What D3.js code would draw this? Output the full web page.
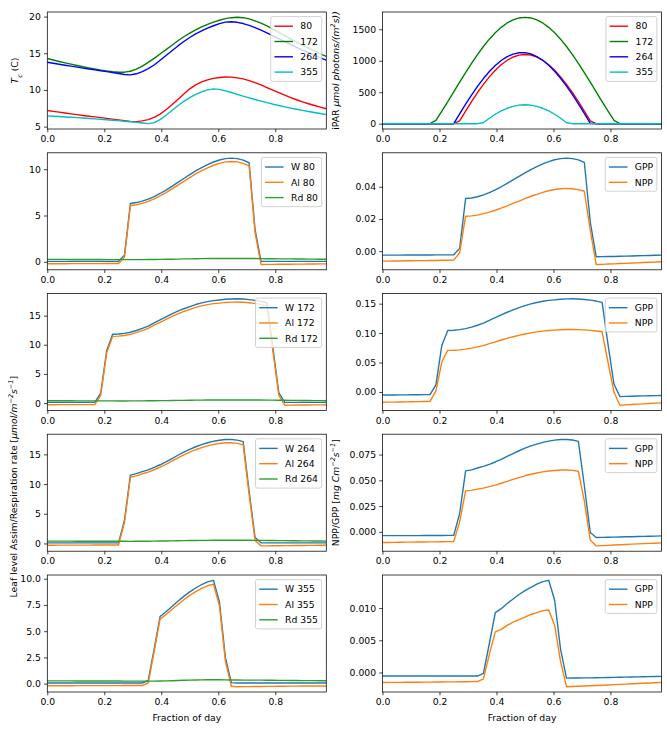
<!DOCTYPE html>
<html><head><meta charset="utf-8">
<script src="https://cdn.jsdelivr.net/npm/d3@7"></script>
<style>
body{margin:0;background:#fff;}
text{font-family:"DejaVu Sans",sans-serif;}
</style></head>
<body>
<script>
// ---------- DATA ----------
const frac = [0,.0208,.0417,.0625,.0833,.1042,.125,.1458,.1667,.1875,.2083,.2292,.25,.2708,.2917,.3125,.3333,.3542,.375,.3958,.4167,.4375,.4583,.4792,.5,.5208,.5417,.5625,.5833,.6042,.625,.6458,.6667,.6875,.7083,.7292,.75,.7708,.7917,.8125,.8333,.8542,.875,.8958,.9167,.9375,.9583,.9792];
const days = ["80","172","264","355"];

// canopy temperature (C)
const tc80  = [7.20,7.08,6.97,6.85,6.74,6.63,6.52,6.42,6.32,6.22,6.12,6.02,5.92,5.82,5.72,5.68,5.78,5.95,6.25,6.70,7.30,7.98,8.70,9.45,10.15,10.70,11.10,11.38,11.57,11.70,11.76,11.74,11.65,11.50,11.28,11.00,10.68,10.33,9.97,9.62,9.28,8.96,8.66,8.38,8.12,7.88,7.65,7.43];
const tc172 = [14.28,14.08,13.88,13.69,13.51,13.33,13.16,13.00,12.85,12.71,12.58,12.48,12.42,12.42,12.55,12.85,13.25,13.75,14.30,14.90,15.50,16.10,16.70,17.25,17.75,18.20,18.60,18.95,19.25,19.50,19.72,19.85,19.90,19.85,19.68,19.42,19.10,18.72,18.30,17.85,17.40,16.95,16.52,16.10,15.70,15.31,14.93,14.56];
const tc264 = [13.78,13.64,13.50,13.37,13.24,13.11,12.98,12.86,12.74,12.62,12.50,12.38,12.24,12.10,12.05,12.20,12.50,12.90,13.40,14.05,14.70,15.35,16.00,16.60,17.15,17.65,18.05,18.42,18.75,19.05,19.25,19.30,19.22,19.05,18.80,18.50,18.15,17.78,17.38,16.98,16.58,16.18,15.80,15.43,15.07,14.72,14.38,14.05];
const tc355 = [6.47,6.42,6.37,6.32,6.27,6.22,6.17,6.11,6.05,5.99,5.93,5.87,5.81,5.74,5.67,5.60,5.50,5.40,5.55,5.95,6.55,7.20,7.85,8.45,8.95,9.40,9.75,10.00,10.15,10.08,9.88,9.65,9.40,9.15,8.92,8.70,8.48,8.27,8.07,7.88,7.70,7.53,7.37,7.21,7.06,6.92,6.78,6.64];

// iPAR
const par80  = [0,0,0,0,0,0,0,0,0,0,0,0,0,44,200,350,493,625,744,849,937,1008,1059,1090,1100,1090,1059,1008,937,849,744,625,493,350,200,44,0,0,0,0,0,0,0,0,0,0,0,0];
const par172 = [0,0,0,0,0,0,0,0,0,51,198,350,505,660,812,958,1097,1226,1343,1445,1531,1600,1650,1680,1690,1680,1650,1600,1531,1445,1343,1226,1097,958,812,660,505,350,198,51,0,0,0,0,0,0,0,0];
const par264 = [0,0,0,0,0,0,0,0,0,0,0,0,0,156,309,455,593,717,829,925,1004,1065,1106,1127,1128,1107,1067,1007,929,833,722,597,461,315,163,6,0,0,0,0,0,0,0,0,0,0,0,0];
const par355 = [0,0,0,0,0,0,0,0,0,0,0,0,0,0,0,0,0,15,87,150,202,245,275,294,300,294,275,245,202,150,87,15,0,0,0,0,0,0,0,0,0,0,0,0,0,0,0,0];

// leaf level rates, day 80
const w80  = [0.05,0.05,0.05,0.05,0.05,0.05,0.05,0.05,0.05,0.05,0.05,0.05,0.05,0.72,6.30,6.40,6.55,6.78,7.05,7.38,7.75,8.15,8.58,9.00,9.42,9.82,10.18,10.50,10.78,11.00,11.15,11.20,11.15,10.98,10.70,3.50,0.05,0.05,0.05,0.05,0.05,0.05,0.05,0.05,0.05,0.05,0.05,0.05];
const al80 = [-0.21,-0.21,-0.21,-0.21,-0.20,-0.20,-0.20,-0.20,-0.20,-0.20,-0.19,-0.19,-0.19,0.50,6.08,6.16,6.31,6.53,6.80,7.12,7.48,7.87,8.29,8.69,9.10,9.49,9.84,10.15,10.43,10.64,10.79,10.84,10.79,10.63,10.35,3.15,-0.29,-0.28,-0.28,-0.27,-0.26,-0.26,-0.25,-0.25,-0.24,-0.24,-0.23,-0.23];
const rd80 = [0.26,0.26,0.26,0.26,0.25,0.25,0.25,0.25,0.25,0.25,0.24,0.24,0.24,0.24,0.24,0.24,0.24,0.25,0.25,0.26,0.27,0.28,0.29,0.31,0.32,0.33,0.34,0.35,0.35,0.36,0.36,0.36,0.36,0.35,0.35,0.35,0.34,0.33,0.33,0.32,0.31,0.31,0.30,0.30,0.29,0.29,0.28,0.28];
const gpp80 = [-0.0025,-0.0025,-0.0025,-0.0025,-0.0024,-0.0024,-0.0024,-0.0024,-0.0024,-0.0023,-0.0023,-0.0023,-0.0023,0.0017,0.0327,0.0330,0.0338,0.0350,0.0364,0.0381,0.0400,0.0421,0.0443,0.0464,0.0486,0.0507,0.0525,0.0542,0.0556,0.0568,0.0575,0.0578,0.0575,0.0567,0.0552,0.0180,-0.0035,-0.0034,-0.0033,-0.0033,-0.0032,-0.0031,-0.0030,-0.0029,-0.0028,-0.0027,-0.0026,-0.0025];
const npp80 = [-0.0062,-0.0062,-0.0061,-0.0061,-0.0060,-0.0060,-0.0059,-0.0059,-0.0058,-0.0058,-0.0057,-0.0057,-0.0056,-0.0010,0.0217,0.0219,0.0224,0.0233,0.0242,0.0254,0.0267,0.0281,0.0297,0.0311,0.0326,0.0341,0.0353,0.0365,0.0375,0.0383,0.0388,0.0390,0.0388,0.0382,0.0372,0.0130,-0.0083,-0.0082,-0.0080,-0.0079,-0.0077,-0.0076,-0.0074,-0.0073,-0.0071,-0.0069,-0.0068,-0.0066];

// day 172
const w172  = [0.12,0.12,0.12,0.12,0.12,0.12,0.12,0.12,0.12,1.70,8.96,11.80,11.85,11.95,12.15,12.45,12.80,13.20,13.75,14.28,14.80,15.30,15.75,16.18,16.55,16.90,17.18,17.40,17.58,17.68,17.80,17.86,17.88,17.84,17.75,17.62,17.45,17.20,9.50,1.80,0.12,0.12,0.12,0.12,0.12,0.12,0.12,0.12];
const al172 = [-0.28,-0.28,-0.27,-0.27,-0.27,-0.26,-0.26,-0.26,-0.25,1.33,8.59,11.43,11.49,11.59,11.78,12.08,12.42,12.81,13.35,13.86,14.37,14.85,15.29,15.71,16.06,16.40,16.67,16.88,17.06,17.15,17.26,17.32,17.34,17.30,17.21,17.09,16.93,16.69,9.00,1.31,-0.36,-0.35,-0.34,-0.33,-0.32,-0.31,-0.30,-0.29];
const rd172 = [0.40,0.40,0.39,0.39,0.39,0.38,0.38,0.38,0.37,0.37,0.37,0.37,0.36,0.36,0.37,0.37,0.38,0.39,0.40,0.42,0.43,0.45,0.46,0.47,0.49,0.50,0.51,0.52,0.52,0.53,0.54,0.54,0.54,0.54,0.54,0.53,0.52,0.51,0.50,0.49,0.48,0.47,0.46,0.45,0.44,0.43,0.42,0.41];
const gpp172 = [-0.0052,-0.0052,-0.0051,-0.0050,-0.0049,-0.0048,-0.0047,-0.0046,-0.0045,0.0120,0.0795,0.1044,0.1049,0.1058,0.1075,0.1102,0.1133,0.1168,0.1217,0.1264,0.1310,0.1354,0.1394,0.1432,0.1465,0.1496,0.1520,0.1540,0.1556,0.1565,0.1575,0.1581,0.1582,0.1579,0.1571,0.1559,0.1544,0.1522,0.0800,0.0130,-0.0080,-0.0076,-0.0073,-0.0070,-0.0067,-0.0064,-0.0062,-0.0060];
const npp172 = [-0.0175,-0.0174,-0.0173,-0.0171,-0.0169,-0.0167,-0.0165,-0.0163,-0.0160,0.0017,0.0512,0.0706,0.0709,0.0715,0.0727,0.0744,0.0765,0.0788,0.0820,0.0851,0.0882,0.0911,0.0937,0.0962,0.0984,0.1004,0.1020,0.1033,0.1044,0.1050,0.1057,0.1060,0.1061,0.1059,0.1054,0.1046,0.1036,0.1022,0.0500,-0.0006,-0.0225,-0.0220,-0.0214,-0.0208,-0.0202,-0.0196,-0.0190,-0.0185];

// day 264
const w264  = [0.10,0.10,0.10,0.10,0.10,0.10,0.10,0.10,0.10,0.10,0.10,0.10,0.10,3.90,11.50,11.75,12.10,12.40,12.80,13.25,13.75,14.30,14.85,15.38,15.85,16.28,16.65,16.95,17.20,17.38,17.50,17.50,17.40,17.15,8.80,1.00,0.10,0.10,0.10,0.10,0.10,0.10,0.10,0.10,0.10,0.10,0.10,0.10];
const al264 = [-0.30,-0.30,-0.29,-0.29,-0.29,-0.28,-0.28,-0.28,-0.27,-0.27,-0.27,-0.26,-0.26,3.54,11.15,11.39,11.73,12.02,12.41,12.84,13.33,13.86,14.39,14.91,15.36,15.78,16.14,16.43,16.67,16.84,16.95,16.95,16.85,16.61,8.27,0.48,-0.41,-0.40,-0.39,-0.38,-0.37,-0.36,-0.35,-0.34,-0.33,-0.32,-0.31,-0.30];
const rd264 = [0.40,0.40,0.39,0.39,0.39,0.38,0.38,0.38,0.37,0.37,0.37,0.36,0.36,0.36,0.35,0.36,0.37,0.38,0.39,0.41,0.42,0.44,0.46,0.47,0.49,0.50,0.51,0.52,0.53,0.54,0.55,0.55,0.55,0.54,0.53,0.52,0.51,0.50,0.49,0.48,0.47,0.46,0.45,0.44,0.43,0.42,0.41,0.40];
const gpp264 = [-0.0037,-0.0037,-0.0037,-0.0036,-0.0036,-0.0036,-0.0036,-0.0035,-0.0035,-0.0035,-0.0035,-0.0034,-0.0034,0.0178,0.0592,0.0602,0.0620,0.0635,0.0655,0.0678,0.0704,0.0732,0.0760,0.0787,0.0812,0.0834,0.0852,0.0868,0.0881,0.0890,0.0896,0.0896,0.0891,0.0878,0.0450,-0.0006,-0.0055,-0.0054,-0.0052,-0.0051,-0.0050,-0.0048,-0.0047,-0.0045,-0.0044,-0.0042,-0.0041,-0.0039];
const npp264 = [-0.0103,-0.0103,-0.0102,-0.0101,-0.0100,-0.0100,-0.0099,-0.0098,-0.0097,-0.0097,-0.0096,-0.0095,-0.0094,0.0097,0.0398,0.0403,0.0415,0.0425,0.0439,0.0454,0.0472,0.0490,0.0509,0.0527,0.0544,0.0559,0.0571,0.0582,0.0590,0.0596,0.0600,0.0600,0.0597,0.0588,0.0300,-0.0080,-0.0136,-0.0134,-0.0131,-0.0128,-0.0125,-0.0122,-0.0119,-0.0117,-0.0114,-0.0112,-0.0110,-0.0107];

// day 355
const w355  = [0.06,0.06,0.06,0.06,0.06,0.06,0.06,0.06,0.06,0.06,0.06,0.06,0.06,0.06,0.06,0.06,0.06,0.30,3.30,6.40,6.85,7.35,7.85,8.32,8.75,9.12,9.45,9.70,9.85,7.80,2.50,0.10,0.06,0.06,0.06,0.06,0.06,0.06,0.06,0.06,0.06,0.06,0.06,0.06,0.06,0.06,0.06,0.06];
const al355 = [-0.20,-0.20,-0.20,-0.20,-0.20,-0.19,-0.19,-0.19,-0.19,-0.19,-0.19,-0.19,-0.19,-0.18,-0.18,-0.18,-0.18,0.06,3.06,6.15,6.59,7.07,7.55,8.00,8.42,8.77,9.09,9.33,9.48,7.43,2.14,-0.25,-0.29,-0.28,-0.28,-0.27,-0.27,-0.26,-0.26,-0.25,-0.25,-0.24,-0.24,-0.23,-0.23,-0.23,-0.22,-0.22];
const rd355 = [0.26,0.26,0.26,0.26,0.26,0.25,0.25,0.25,0.25,0.25,0.25,0.25,0.25,0.24,0.24,0.24,0.24,0.24,0.24,0.25,0.26,0.28,0.30,0.32,0.33,0.35,0.36,0.37,0.37,0.37,0.36,0.35,0.35,0.34,0.34,0.33,0.33,0.32,0.32,0.31,0.31,0.30,0.30,0.29,0.29,0.29,0.28,0.28];
const gpp355 = [-0.00055,-0.00055,-0.00055,-0.00055,-0.00055,-0.00055,-0.00055,-0.00055,-0.00055,-0.00055,-0.00055,-0.00055,-0.00055,-0.00055,-0.00055,-0.00055,-0.00055,-0.00015,0.0045,0.0093,0.0099,0.0107,0.0114,0.0121,0.0127,0.0132,0.0137,0.0141,0.0143,0.0112,0.0036,-0.00087,-0.00086,-0.00085,-0.00084,-0.00083,-0.00082,-0.00080,-0.00078,-0.00076,-0.00074,-0.00072,-0.00070,-0.00068,-0.00066,-0.00064,-0.00062,-0.00060];
const npp355 = [-0.00155,-0.00154,-0.00154,-0.00153,-0.00152,-0.00152,-0.00151,-0.00150,-0.00149,-0.00148,-0.00147,-0.00146,-0.00145,-0.00144,-0.00143,-0.00142,-0.00140,-0.00100,0.0028,0.0063,0.0067,0.0073,0.0078,0.0082,0.0086,0.0090,0.0093,0.0096,0.0097,0.0073,0.0017,-0.0022,-0.00218,-0.00214,-0.00210,-0.00205,-0.00201,-0.00197,-0.00193,-0.00188,-0.00184,-0.00180,-0.00175,-0.00171,-0.00167,-0.00163,-0.00158,-0.00154];

// tick labels
const xTicks = [0, 0.2, 0.4, 0.6, 0.8];
const tcTicks = [5, 10, 15, 20];
const parTicks = [0, 500, 1000, 1500];
const leaf80Ticks = [0, 5, 10];
const leaf172Ticks = [0, 5, 10, 15];
const leaf264Ticks = [0, 5, 10, 15];
const leaf355Ticks = [0, 2.5, 5, 7.5, 10];
const gpp80Ticks = [0, 0.02, 0.04];
const gpp172Ticks = [0, 0.05, 0.10, 0.15];
const gpp264Ticks = [0, 0.025, 0.05, 0.075];
const gpp355Ticks = [0, 0.005, 0.010];

// ---------- STYLE / LAYOUT ----------
const FS = 9.26;
const LW = 1.39;
const C = {r:"#ff0000", g:"#008000", b:"#0000ff", c:"#00bfbf", t1:"#1f77b4", t2:"#ff7f0e", t3:"#2ca02c"};
const colX = [47.3, 382.5];
const W = 279;
const rowY = [12, 152.8, 293.5, 434.2, 575];
const H = 117;

const svg = d3.select("body").append("svg").attr("width", 667).attr("height", 730)
  .style("font-family", "'DejaVu Sans', sans-serif");

let clipId = 0;
function panel(col, row, series, yTicks, yFmt) {
  const x0 = colX[col], y0 = rowY[row];
  const g = svg.append("g").attr("transform", `translate(${x0},${y0})`);
  const x = d3.scaleLinear().domain(d3.extent(frac)).range([0, W]);
  const all = series.flatMap(s => s.values);
  const [lo, hi] = d3.extent(all);
  const pad = (hi - lo) * 0.05;
  const y = d3.scaleLinear().domain([lo - pad, hi + pad]).range([H, 0]);

  const id = "clip" + (clipId++);
  g.append("clipPath").attr("id", id).append("rect").attr("width", W).attr("height", H);
  const line = d3.line().x((d, i) => x(frac[i])).y(d => y(d));
  const lg = g.append("g").attr("clip-path", `url(#${id})`);
  series.forEach(s => {
    lg.append("path").attr("d", line(s.values)).attr("fill", "none")
      .attr("stroke", s.color).attr("stroke-width", LW).attr("stroke-linejoin", "round");
  });

  const xa = g.append("g").attr("transform", `translate(0,${H})`)
    .call(d3.axisBottom(x).tickValues(xTicks).tickFormat(d3.format(".1f")).tickSize(3.24).tickPadding(3.2));
  const ya = g.append("g")
    .call(d3.axisLeft(y).tickValues(yTicks).tickFormat(yFmt).tickSize(3.24).tickPadding(3.2));
  [xa, ya].forEach(a => {
    a.select(".domain").remove();
    a.selectAll("line").attr("stroke", "#000").attr("stroke-width", 0.75);
    a.selectAll("text").attr("fill", "#000").style("font-size", FS + "px").style("font-family", "'DejaVu Sans', sans-serif");
  });
  g.append("rect").attr("width", W).attr("height", H).attr("fill", "none")
    .attr("stroke", "#000").attr("stroke-width", 0.75);

  // legend
  const pitch = 15.3, bp = 3.7, hl = 18.5, htp = 7.4;
  const leg = g.append("g");
  const box = leg.append("rect");
  const items = leg.append("g");
  let maxW = 0;
  series.forEach((s, i) => {
    const t = items.append("text").text(s.label).attr("x", bp + hl + htp).attr("y", 9.6 + i * pitch)
      .attr("dy", "0.35em").style("font-size", FS + "px").attr("fill", "#000");
    maxW = Math.max(maxW, t.node().getComputedTextLength());
    items.append("line").attr("x1", bp).attr("x2", bp + hl)
      .attr("y1", 9.6 + i * pitch).attr("y2", 9.6 + i * pitch)
      .attr("stroke", s.color).attr("stroke-width", LW);
  });
  const bw = bp + hl + htp + maxW + bp;
  const bh = 2 * bp + series.length * 10.9 + (series.length - 1) * 4.6;
  box.attr("width", bw).attr("height", bh).attr("rx", 2).attr("ry", 2)
    .attr("fill", "#fff").attr("fill-opacity", 0.8).attr("stroke", "#cccccc").attr("stroke-width", 0.9);
  leg.attr("transform", `translate(${W - 4.6 - bw},${4.6})`);
  return g;
}

const intFmt = d3.format("d");
panel(0, 0, [
  {label: days[0], values: tc80, color: C.r},
  {label: days[1], values: tc172, color: C.g},
  {label: days[2], values: tc264, color: C.b},
  {label: days[3], values: tc355, color: C.c}], tcTicks, intFmt);
panel(1, 0, [
  {label: days[0], values: par80, color: C.r},
  {label: days[1], values: par172, color: C.g},
  {label: days[2], values: par264, color: C.b},
  {label: days[3], values: par355, color: C.c}], parTicks, intFmt);

const leafSets = [[w80, al80, rd80, leaf80Ticks, intFmt], [w172, al172, rd172, leaf172Ticks, intFmt],
                  [w264, al264, rd264, leaf264Ticks, intFmt], [w355, al355, rd355, leaf355Ticks, d3.format(".1f")]];
const gppSets = [[gpp80, npp80, gpp80Ticks, d3.format(".2f")], [gpp172, npp172, gpp172Ticks, d3.format(".2f")],
                 [gpp264, npp264, gpp264Ticks, d3.format(".3f")], [gpp355, npp355, gpp355Ticks, d3.format(".3f")]];
leafSets.forEach((s, i) => {
  panel(0, i + 1, [
    {label: "W " + days[i], values: s[0], color: C.t1},
    {label: "Al " + days[i], values: s[1], color: C.t2},
    {label: "Rd " + days[i], values: s[2], color: C.t3}], s[3], s[4]);
});
gppSets.forEach((s, i) => {
  panel(1, i + 1, [
    {label: "GPP", values: s[0], color: C.t1},
    {label: "NPP", values: s[1], color: C.t2}], s[2], s[3]);
});

// axis labels
function vlabel(cx, cy, parts) {
  const t = svg.append("text").attr("transform", `translate(${cx},${cy}) rotate(-90)`)
    .attr("text-anchor", "middle").attr("dy", "0.35em").style("font-size", FS + "px").attr("fill", "#000");
  parts.forEach(p => {
    const ts = t.append("tspan").text(p.t);
    if (p.i) ts.style("font-style", "italic");
    if (p.sup) ts.attr("baseline-shift", "super").style("font-size", (FS * 0.7) + "px");
    if (p.sub) ts.attr("baseline-shift", "sub").style("font-size", (FS * 0.7) + "px");
  });
}
vlabel(15, rowY[0] + H / 2, [{t: "T", i: 1}, {t: "c", i: 1, sub: 1}, {t: " (C)"}]);
vlabel(335.5, rowY[0] + H / 2, [{t: "iPAR "}, {t: "μmol photons/(m", i: 1}, {t: "2", i: 1, sup: 1}, {t: "s))", i: 1}]);
vlabel(14, rowY[3] + H / 2 - 6, [{t: "Leaf level Assim/Respiration rate ["}, {t: "μmol/m", i: 1}, {t: "−2", i: 1, sup: 1}, {t: "s", i: 1}, {t: "−1", i: 1, sup: 1}, {t: "]"}]);
vlabel(335.5, rowY[3] + H / 2, [{t: "NPP/GPP ["}, {t: "mg Cm", i: 1}, {t: "−2", i: 1, sup: 1}, {t: "s", i: 1}, {t: "−1", i: 1, sup: 1}, {t: "]"}]);

[0, 1].forEach(c => {
  svg.append("text").attr("x", colX[c] + W / 2).attr("y", 718).attr("dy", "0.35em")
    .attr("text-anchor", "middle").style("font-size", FS + "px").attr("fill", "#000").text("Fraction of day");
});
</script>
</body></html>
